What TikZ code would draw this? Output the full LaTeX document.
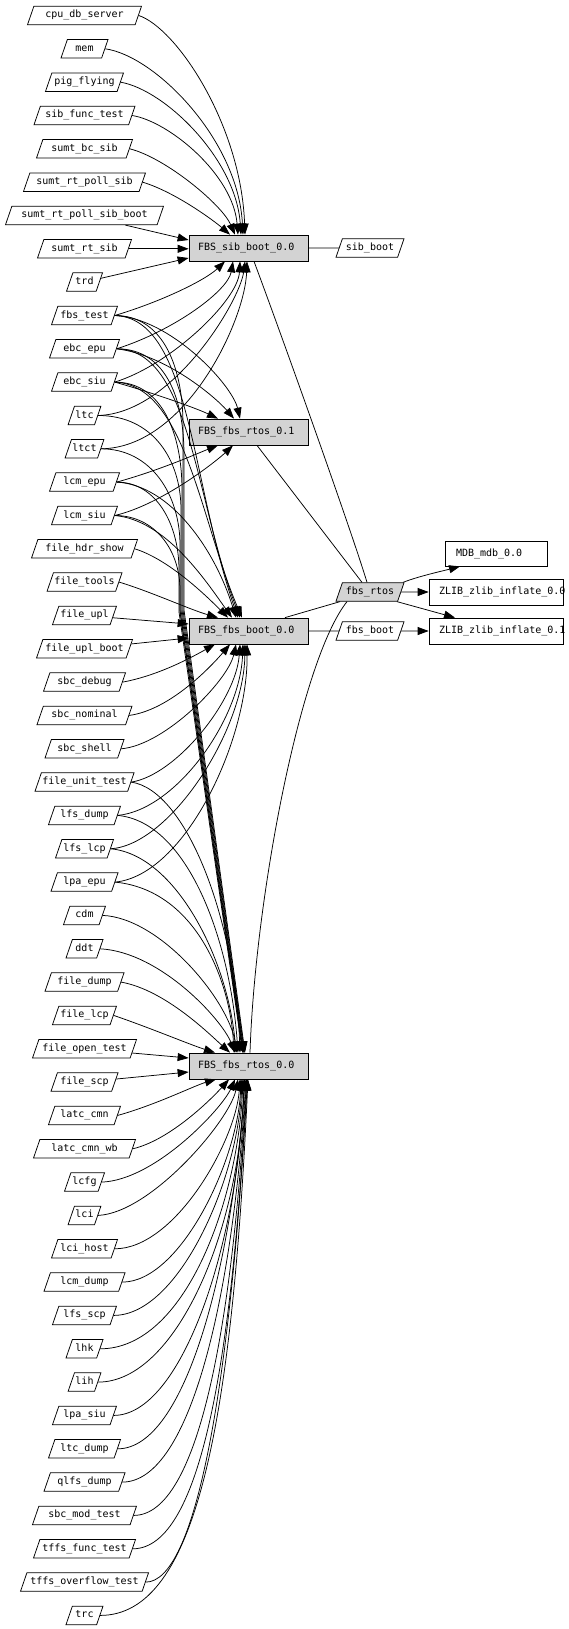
\documentclass[tikz,border=0pt]{standalone}
\usepackage{fontspec}
\newfontfamily\dmono{DejaVu Sans Mono}
\usetikzlibrary{shapes.geometric,arrows.meta}
\definecolor{boxgray}{RGB}{211,211,211}
\begin{document}
\begin{tikzpicture}[x=1pt,y=-1pt,
  every node/.style={font=\dmono\fontsize{10}{12}\selectfont, text height=7pt, text depth=2pt},
  para/.style={trapezium, trapezium left angle=71, trapezium right angle=109,
    trapezium stretches body, draw, line width=0.75pt, inner xsep=1pt, inner ysep=4.75pt,
    minimum height=18.5pt},
  fbsbox/.style={rectangle, draw, fill=boxgray, line width=0.75pt, inner sep=0pt,
    minimum width=119pt, minimum height=26pt},
  pkgbox/.style={rectangle, draw, fill=white, line width=0.75pt, inner sep=0pt},
  link/.style={line width=0.75pt},
  arr/.style={link, -{Triangle[length=11pt,width=8pt]}}
]
\useasboundingbox (0,0) rectangle (568,1629);

% ---- left nodes
\node[para, minimum width=114pt] (cpu_db_server) at (84.5,15.5) {cpu\_db\_server};
\node[para, minimum width=47pt] (mem) at (84.5,48.8) {mem};
\node[para, minimum width=78pt] (pig_flying) at (84.5,82.2) {pig\_flying};
\node[para, minimum width=101pt] (sib_func_test) at (84.5,115.5) {sib\_func\_test};
\node[para, minimum width=96pt] (sumt_bc_sib) at (84.5,148.8) {sumt\_bc\_sib};
\node[para, minimum width=122pt] (sumt_rt_poll_sib) at (84.5,182.2) {sumt\_rt\_poll\_sib};
\node[para, minimum width=158pt] (sumt_rt_poll_sib_boot) at (84.5,215.5) {sumt\_rt\_poll\_sib\_boot};
\node[para, minimum width=94pt] (sumt_rt_sib) at (84.5,248.8) {sumt\_rt\_sib};
\node[para, minimum width=36pt] (trd) at (84.5,282.1) {trd};
\node[para, minimum width=66pt] (fbs_test) at (84.5,315.5) {fbs\_test};
\node[para, minimum width=70pt] (ebc_epu) at (84.5,348.8) {ebc\_epu};
\node[para, minimum width=66pt] (ebc_siu) at (84.5,382.1) {ebc\_siu};
\node[para, minimum width=32pt] (ltc) at (84.5,415.5) {ltc};
\node[para, minimum width=37pt] (ltct) at (84.5,448.8) {ltct};
\node[para, minimum width=70pt] (lcm_epu) at (84.5,482.1) {lcm\_epu};
\node[para, minimum width=66pt] (lcm_siu) at (84.5,515.5) {lcm\_siu};
\node[para, minimum width=106pt] (file_hdr_show) at (84.5,548.8) {file\_hdr\_show};
\node[para, minimum width=72pt] (file_tools) at (84.5,582.1) {file\_tools};
\node[para, minimum width=64pt] (file_upl) at (84.5,615.4) {file\_upl};
\node[para, minimum width=96pt] (file_upl_boot) at (84.5,648.8) {file\_upl\_boot};
\node[para, minimum width=82pt] (sbc_debug) at (84.5,682.1) {sbc\_debug};
\node[para, minimum width=95pt] (sbc_nominal) at (84.5,715.4) {sbc\_nominal};
\node[para, minimum width=79pt] (sbc_shell) at (84.5,748.8) {sbc\_shell};
\node[para, minimum width=97pt] (file_unit_test) at (84.5,782.1) {file\_unit\_test};
\node[para, minimum width=72pt] (lfs_dump) at (84.5,815.4) {lfs\_dump};
\node[para, minimum width=58pt] (lfs_lcp) at (84.5,848.8) {lfs\_lcp};
\node[para, minimum width=67pt] (lpa_epu) at (84.5,882.1) {lpa\_epu};
\node[para, minimum width=42pt] (cdm) at (84.5,915.4) {cdm};
\node[para, minimum width=37pt] (ddt) at (84.5,948.8) {ddt};
\node[para, minimum width=79pt] (file_dump) at (84.5,982.1) {file\_dump};
\node[para, minimum width=64pt] (file_lcp) at (84.5,1015.4) {file\_lcp};
\node[para, minimum width=104pt] (file_open_test) at (84.5,1048.8) {file\_open\_test};
\node[para, minimum width=67pt] (file_scp) at (84.5,1082.1) {file\_scp};
\node[para, minimum width=72pt] (latc_cmn) at (84.5,1115.4) {latc\_cmn};
\node[para, minimum width=102pt] (latc_cmn_wb) at (84.5,1148.8) {latc\_cmn\_wb};
\node[para, minimum width=40pt] (lcfg) at (84.5,1182.1) {lcfg};
\node[para, minimum width=32pt] (lci) at (84.5,1215.4) {lci};
\node[para, minimum width=66pt] (lci_host) at (84.5,1248.8) {lci\_host};
\node[para, minimum width=81pt] (lcm_dump) at (84.5,1282.1) {lcm\_dump};
\node[para, minimum width=64pt] (lfs_scp) at (84.5,1315.4) {lfs\_scp};
\node[para, minimum width=37pt] (lhk) at (84.5,1348.8) {lhk};
\node[para, minimum width=32pt] (lih) at (84.5,1382.1) {lih};
\node[para, minimum width=64pt] (lpa_siu) at (84.5,1415.4) {lpa\_siu};
\node[para, minimum width=72pt] (ltc_dump) at (84.5,1448.8) {ltc\_dump};
\node[para, minimum width=81pt] (qlfs_dump) at (84.5,1482.1) {qlfs\_dump};
\node[para, minimum width=104pt] (sbc_mod_test) at (84.5,1515.4) {sbc\_mod\_test};
\node[para, minimum width=102pt] (tffs_func_test) at (84.5,1548.8) {tffs\_func\_test};
\node[para, minimum width=128pt] (tffs_overflow_test) at (84.5,1582.1) {tffs\_overflow\_test};
\node[para, minimum width=37pt] (trc) at (84.5,1615.4) {trc};

% ---- middle boxes
\node[fbsbox] (B1) at (248.5,248) {\makebox[101pt][l]{FBS\_sib\_boot\_0.0}};
\node[fbsbox] (B2) at (248.5,432) {\makebox[101pt][l]{FBS\_fbs\_rtos\_0.1}};
\node[fbsbox] (B3) at (248.5,631) {\makebox[101pt][l]{FBS\_fbs\_boot\_0.0}};
\node[fbsbox] (B4) at (248.5,1066) {\makebox[101pt][l]{FBS\_fbs\_rtos\_0.0}};

% ---- right nodes
\node[para, minimum width=68pt] (sib_boot) at (370,248) {sib\_boot};
\node[para, fill=boxgray, minimum width=68pt] (fbs_rtos) at (370,592) {fbs\_rtos};
\node[para, minimum width=68pt] (fbs_boot) at (370,631) {fbs\_boot};
\node[pkgbox, minimum width=102pt, minimum height=25pt] (MDB) at (496,553.5) {\makebox[80pt][l]{MDB\_mdb\_0.0}};
\node[pkgbox, minimum width=134pt, minimum height=26pt] (ZLIB0) at (496,592) {\makebox[114pt][l]{ZLIB\_zlib\_inflate\_0.0}};
\node[pkgbox, minimum width=134pt, minimum height=26pt] (ZLIB1) at (496,631) {\makebox[114pt][l]{ZLIB\_zlib\_inflate\_0.1}};

% ---- edges into FBS_sib_boot_0.0
\draw[arr] (cpu_db_server.east) .. controls +(37.7,12.5) and +(-4,-110) .. ([xshift=-3.5pt]B1.north);
\draw[arr] (mem.east) .. controls +(50,7) and +(-5,-95) .. ([xshift=-5.5pt]B1.north);
\draw[arr] (pig_flying.east) .. controls +(45,8) and +(-5,-75) .. ([xshift=-7.5pt]B1.north);
\draw[arr] (sib_func_test.east) .. controls +(37,6) and +(-5,-60) .. ([xshift=-10.5pt]B1.north);
\draw[arr] (sumt_bc_sib.east) .. controls +(36,9) and +(-13,-30) .. ([xshift=-13.5pt]B1.north);
\draw[arr] (sumt_rt_poll_sib.east) .. controls +(33,10) and +(-15,-13) .. ([xshift=-18.5pt]B1.north);
\draw[arr] (sumt_rt_poll_sib_boot) -- ([yshift=8pt]B1.west);
\draw[arr] (sumt_rt_sib.east) -- (sumt_rt_sib.east -| B1.west);
\draw[arr] (trd) -- ([yshift=-10pt]B1.west);
\draw[arr] (fbs_test.east) .. controls +(45.7,-13.5) and +(-20,19) .. ([xshift=-23.5pt]B1.south);
\draw[arr] (ebc_epu.east) .. controls +(58.7,-18.8) and +(-5,29) .. ([xshift=-15.5pt]B1.south);
\draw[arr] (ebc_siu.east) .. controls +(55.7,-17) and +(-2,39) .. ([xshift=-8.5pt]B1.south);
\draw[arr] (ltc.east) .. controls +(75,-2) and +(-5,39) .. ([xshift=-3.5pt]B1.south);
\draw[arr] (ltct.east) .. controls +(85,-1) and +(-2,59) .. ([xshift=-1.5pt]B1.south);

% ---- edges into FBS_fbs_rtos_0.1
\draw[arr] (fbs_test.east) .. controls +(55.7,2.5) and +(-8,-34) .. ([xshift=-8.5pt]B2.north);
\draw[arr] (ebc_epu.east) .. controls +(48.7,6) and +(-19,-22) .. ([xshift=-14.5pt]B2.north);
\draw[arr] (ebc_siu.east) .. controls +(35.7,10) and +(-23,-11) .. ([xshift=-30.5pt]B2.north);
\draw[arr] (lcm_epu.east) .. controls +(43.7,-12) and +(-18,7) .. ([xshift=-30.5pt]B2.south);
\draw[arr] (lcm_siu.east) .. controls +(45.7,-10.5) and +(-18,17) .. ([xshift=-15.5pt]B2.south);

% ---- edges into FBS_fbs_boot_0.0
\draw[arr] (fbs_test.east) .. controls +(75.7,2.5) and +(-48,-138) .. ([xshift=-10.5pt]B3.north);
\draw[arr] (ebc_epu.east) .. controls +(73.7,1) and +(-45,-118) .. ([xshift=-8.5pt]B3.north);
\draw[arr] (ebc_siu.east) .. controls +(70.7,3) and +(-42,-98) .. ([xshift=-6.5pt]B3.north);
\draw[arr] (lcm_epu.east) .. controls +(53.7,3) and +(-21,-68) .. ([xshift=-12.5pt]B3.north);
\draw[arr] (lcm_siu.east) .. controls +(50.7,4.5) and +(-27,-38) .. ([xshift=-16.5pt]B3.north);
\draw[arr] (file_hdr_show.east) .. controls +(35.7,11) and +(-18,-18) .. ([xshift=-20.5pt]B3.north);
\draw[arr] (file_tools.east) .. controls +(32.7,10) and +(-28,-8) .. ([xshift=-30.5pt]B3.north);
\draw[arr] (file_upl) -- ([yshift=7pt]B3.west);
\draw[arr] (file_upl_boot) -- ([yshift=-7pt]B3.west);
\draw[arr] (sbc_debug.east) .. controls +(37.7,-7) and +(-20,11) .. ([xshift=-33.5pt]B3.south);
\draw[arr] (sbc_nominal.east) .. controls +(41.2,-5.4) and +(-18,21) .. ([xshift=-18.5pt]B3.south);
\draw[arr] (sbc_shell.east) .. controls +(44.2,-3.8) and +(-8,36) .. ([xshift=-12.5pt]B3.south);
\draw[arr] (file_unit_test.east) .. controls +(45.2,-7) and +(-4,56) .. ([xshift=-8.5pt]B3.south);
\draw[arr] (lfs_dump.east) .. controls +(57.7,-5.4) and +(-3,76) .. ([xshift=-5.5pt]B3.south);
\draw[arr] (lfs_lcp.east) .. controls +(59.7,-4) and +(-1,86) .. ([xshift=-3.5pt]B3.south);
\draw[arr] (lpa_epu.east) .. controls +(70,-7) and +(1,96) .. ([xshift=-1.5pt]B3.south);

% ---- bundle into FBS_fbs_rtos_0.0
\draw[arr] (fbs_test.east) .. controls +(50,0) and +(0,-55) .. (183,425) -- (183,610) -- ([xshift=-4pt]B4.north);
\draw[arr] (ebc_epu.east) .. controls +(50,0) and +(0,-55) .. (184,455) -- (184,610) -- ([xshift=-3.5pt]B4.north);
\draw[arr] (ebc_siu.east) .. controls +(48,0) and +(0,-55) .. (182,490) -- (182,610) -- ([xshift=-4.5pt]B4.north);
\draw[arr] (ltc.east) .. controls +(55,0) and +(0,-50) .. (181,510) -- (181,610) -- ([xshift=-5pt]B4.north);
\draw[arr] (ltct.east) .. controls +(50,0) and +(0,-50) .. (180,545) -- (180,610) -- ([xshift=-5.5pt]B4.north);
\draw[arr] (lcm_epu.east) .. controls +(40,0) and +(0,-45) .. (179,570) -- (179,612) -- ([xshift=-6pt]B4.north);
\draw[arr] (lcm_siu.east) .. controls +(40,0) and +(0,-40) .. (180,590) -- (180,612) -- ([xshift=-5.5pt]B4.north);

% ---- other edges into FBS_fbs_rtos_0.0
\draw[arr] (file_unit_test.east) .. controls +(55.2,8) and +(-5,-133) .. ([xshift=-8.5pt]B4.north);
\draw[arr] (lfs_dump.east) .. controls +(70,6.6) and +(-8,-113) .. ([xshift=-10.5pt]B4.north);
\draw[arr] (lfs_lcp.east) .. controls +(65,6) and +(-8,-93) .. ([xshift=-12.5pt]B4.north);
\draw[arr] (lpa_epu.east) .. controls +(80,8) and +(-4,-73) .. ([xshift=-14.5pt]B4.north);
\draw[arr] (cdm.east) .. controls +(57.7,2.6) and +(-9,-53) .. ([xshift=-11.5pt]B4.north);
\draw[arr] (ddt.east) .. controls +(60.2,3.2) and +(-13,-33) .. ([xshift=-13.5pt]B4.north);
\draw[arr] (file_dump.east) .. controls +(44.2,8) and +(-20,-18) .. ([xshift=-18.5pt]B4.north);
\draw[arr] (file_lcp.east) .. controls +(36.7,12.6) and +(-25,-8) .. ([xshift=-33.5pt]B4.north);
\draw[arr] (file_open_test) -- ([yshift=8pt]B4.west);
\draw[arr] (file_scp) -- ([yshift=-6pt]B4.west);
\draw[arr] (latc_cmn.east) .. controls +(37.7,-10.4) and +(-21,6) .. ([xshift=-32.5pt]B4.south);
\draw[arr] (latc_cmn_wb.east) .. controls +(37.7,-8.8) and +(-17,19) .. ([xshift=-19.5pt]B4.south);
\draw[arr] (lcfg.east) .. controls +(53.7,-2) and +(-13,29) .. ([xshift=-13.5pt]B4.south);
\draw[arr] (lci.east) .. controls +(52.7,-2.4) and +(-8,41) .. ([xshift=-10.5pt]B4.south);
\draw[arr] (lci_host.east) .. controls +(60.7,0) and +(-4,61) .. ([xshift=-8.5pt]B4.south);
\draw[arr] (lcm_dump.east) .. controls +(58.2,0) and +(-3,81) .. ([xshift=-7.5pt]B4.south);
\draw[arr] (lfs_scp.east) .. controls +(64.7,0) and +(-4,101) .. ([xshift=-6.5pt]B4.south);
\draw[arr] (lhk.east) .. controls +(85.2,0) and +(-5,121) .. ([xshift=-5.5pt]B4.south);
\draw[arr] (lih.east) .. controls +(77.7,0) and +(-4,151) .. ([xshift=-4.5pt]B4.south);
\draw[arr] (lpa_siu.east) .. controls +(66.7,0) and +(-7.5,171) .. ([xshift=-4pt]B4.south);
\draw[arr] (ltc_dump.east) .. controls +(68.3,0) and +(-12.7,184.5) .. ([xshift=-3.5pt]B4.south);
\draw[arr] (qlfs_dump.east) .. controls +(69.2,0) and +(-13.3,212.4) .. ([xshift=-2.5pt]B4.south);
\draw[arr] (sbc_mod_test.east) .. controls +(65.7,0) and +(-14,242) .. ([xshift=-2pt]B4.south);
\draw[arr] (tffs_func_test.east) .. controls +(69.4,0) and +(-14.7,274) .. ([xshift=-1.5pt]B4.south);
\draw[arr] (tffs_overflow_test.east) .. controls +(49.7,0) and +(-17.5,311) .. ([xshift=-1pt]B4.south);
\draw[arr] (trc.east) .. controls +(96.4,0) and +(-16,343.4) .. ([xshift=-0.5pt]B4.south);

% ---- right part
\draw[link] (B1.east) -- (sib_boot.west);
\draw[link] ([xshift=5.5pt]B1.south) .. controls +(28,75) and +(-15,-50) .. ([xshift=-3pt]fbs_rtos.north);
\draw[link] ([xshift=8.5pt]B2.south) -- ([xshift=-8pt]fbs_rtos.north);
\draw[link] ([xshift=36.5pt]B3.north) -- ([xshift=-30pt]fbs_rtos.south);
\draw[link] (B3.east) -- (fbs_boot.west);
\draw[link] ([xshift=1.5pt]B4.north) .. controls +(5,-153) and +(-47,59) .. ([xshift=-23pt]fbs_rtos.south);
\draw[arr] ([xshift=33pt]fbs_rtos.north) .. controls +(15,-6) and +(-15,4) .. ([xshift=-36pt]MDB.south);
\draw[arr] (fbs_rtos.east) -- (ZLIB0.west);
\draw[arr] ([xshift=27pt]fbs_rtos.south) -- ([xshift=-41pt]ZLIB1.north);
\draw[arr] (fbs_boot.east) -- (ZLIB1.west);
\end{tikzpicture}
\end{document}
